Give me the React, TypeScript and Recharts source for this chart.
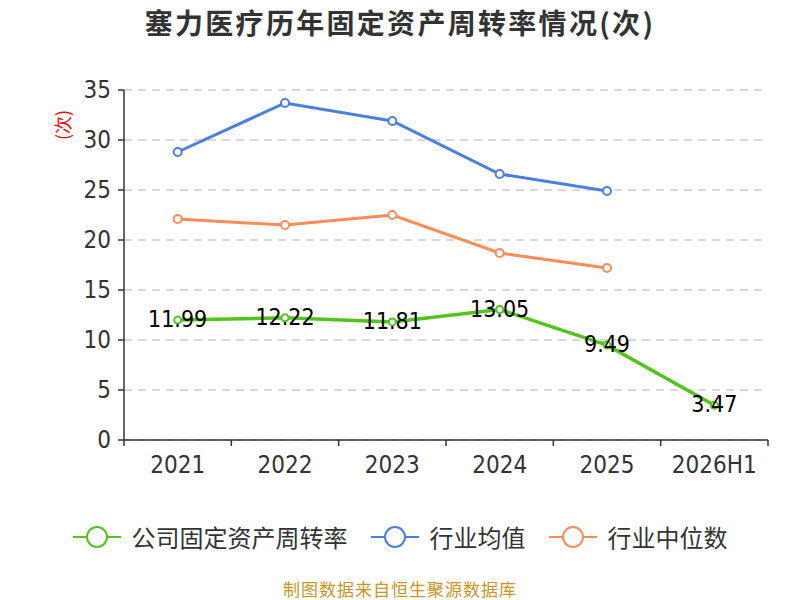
import React from "react";
import { LineChart, Line, XAxis, YAxis, CartesianGrid, LabelList } from "recharts";

const categories = ["2021", "2022", "2023", "2024", "2025", "2026H1"];
const companyValues = [11.99, 12.22, 11.81, 13.05, 9.49, 3.47];
const industryAvg = [28.8, 33.7, 31.9, 26.6, 24.9, null];
const industryMedian = [22.1, 21.5, 22.5, 18.7, 17.2, null];
const yTicks = [0, 5, 10, 15, 20, 25, 30, 35];

const seriesNames = ["公司固定资产周转率", "行业均值", "行业中位数"];
const colors = ["#52c41a", "#4a7fe0", "#ff8c57"];

const data = categories.map((c, i) => ({
  name: c,
  company: companyValues[i],
  avg: industryAvg[i],
  median: industryMedian[i],
}));

const FONT = '"Noto Sans CJK SC", "Noto Sans", sans-serif';
const NUM_FONT = '"Liberation Sans Narrow", "DejaVu Sans Condensed", "Noto Sans CJK SC", sans-serif';
const W = 800;
const H = 600;
const PLOT_LEFT = 124;
const PLOT_RIGHT = 768;
const BAND = (PLOT_RIGHT - PLOT_LEFT) / categories.length;

const XTick = (props: any) => {
  const { x, y, payload, index } = props;
  const isLast = index === categories.length - 1;
  return (
    <g>
      <line x1={x - BAND / 2} x2={x - BAND / 2} y1={y - 8} y2={y - 2} stroke="#333" strokeWidth={1.5} />
      {isLast && (
        <line x1={x + BAND / 2} x2={x + BAND / 2} y1={y - 8} y2={y - 2} stroke="#333" strokeWidth={1.5} />
      )}
      <text x={x} y={y + 25} textAnchor="middle" fill="#333" fontSize={24} fontFamily={NUM_FONT}>
        {payload.value}
      </text>
    </g>
  );
};

const YTick = (props: any) => {
  const { x, y, payload } = props;
  return (
    <text x={x - 5} y={y + 8} textAnchor="end" fill="#333" fontSize={24} fontFamily={NUM_FONT}>
      {payload.value}
    </text>
  );
};

const CenterLabel = (props: any) => {
  const { x, y, value } = props;
  return (
    <text x={x} y={y} dy={7} textAnchor="middle" fill="#000" fontSize={23} fontFamily={NUM_FONT}>
      {value}
    </text>
  );
};

const LegendIcon = ({ color }: { color: string }) => (
  <svg width={48} height={24} style={{ display: "block" }}>
    <line x1={0} x2={48} y1={12} y2={12} stroke={color} strokeWidth={2} />
    <circle cx={24} cy={12} r={10} fill="#fff" stroke={color} strokeWidth={2} />
  </svg>
);

export default function App() {
  return (
    <div style={{ position: "absolute", left: 0, top: 0, width: W, height: H, background: "#fff", fontFamily: FONT }}>
      <div
        style={{
          position: "absolute",
          left: 0,
          top: 2,
          width: W,
          textAlign: "center",
          fontSize: 28,
          fontWeight: "bold",
          color: "#333",
          letterSpacing: 2.3,
        }}
      >
        塞力医疗历年固定资产周转率情况(次)
      </div>
      <LineChart width={W} height={H} data={data} margin={{ top: 90, right: 32, bottom: 130, left: 0 }}>
        <CartesianGrid vertical={false} stroke="#cccccc" strokeDasharray="8 6" strokeWidth={1.5} />
        <XAxis
          dataKey="name"
          height={30}
          axisLine={{ stroke: "#333", strokeWidth: 1.5 }}
          tickLine={false}
          tick={<XTick />}
          interval={0}
          padding={{ left: BAND / 2, right: BAND / 2 }}
        />
        <YAxis
          width={124}
          domain={[0, 35]}
          ticks={yTicks}
          interval={0}
          axisLine={{ stroke: "#333", strokeWidth: 1.5 }}
          tickLine={{ stroke: "#333", strokeWidth: 1.5 }}
          tickSize={6}
          tick={<YTick />}
        />
        <Line
          dataKey="avg"
          stroke={colors[1]}
          strokeWidth={3}
          dot={{ r: 4, fill: "#fff", stroke: colors[1], strokeWidth: 2 }}
          isAnimationActive={false}
        />
        <Line
          dataKey="median"
          stroke={colors[2]}
          strokeWidth={3}
          dot={{ r: 4, fill: "#fff", stroke: colors[2], strokeWidth: 2 }}
          isAnimationActive={false}
        />
        <Line
          dataKey="company"
          stroke={colors[0]}
          strokeWidth={3.5}
          dot={{ r: 3.5, fill: "#fff", stroke: colors[0], strokeWidth: 2 }}
          isAnimationActive={false}
        >
          <LabelList dataKey="company" content={<CenterLabel />} />
        </Line>
      </LineChart>
      <div
        style={{
          position: "absolute",
          left: 46,
          top: 112,
          width: 32,
          height: 26,
          lineHeight: "26px",
          transform: "rotate(-90deg)",
          transformOrigin: "center",
          color: "#ff0000",
          fontSize: 18,
          textAlign: "center",
        }}
      >
        (次)
      </div>
      <div
        style={{
          position: "absolute",
          left: 0,
          top: 522,
          width: W,
          display: "flex",
          justifyContent: "center",
          alignItems: "center",
          fontSize: 24,
          lineHeight: "30px",
          color: "#333",
        }}
      >
        {seriesNames.map((n, i) => (
          <div key={n} style={{ display: "flex", alignItems: "center", marginRight: i < 2 ? 23 : 0 }}>
            <LegendIcon color={colors[i]} />
            <span style={{ marginLeft: 11 }}>{n}</span>
          </div>
        ))}
      </div>
      <div
        style={{
          position: "absolute",
          left: 0,
          top: 579,
          width: W,
          textAlign: "center",
          fontSize: 17,
          lineHeight: "20px",
          color: "#c8961e",
          letterSpacing: 1,
        }}
      >
        制图数据来自恒生聚源数据库
      </div>
    </div>
  );
}
